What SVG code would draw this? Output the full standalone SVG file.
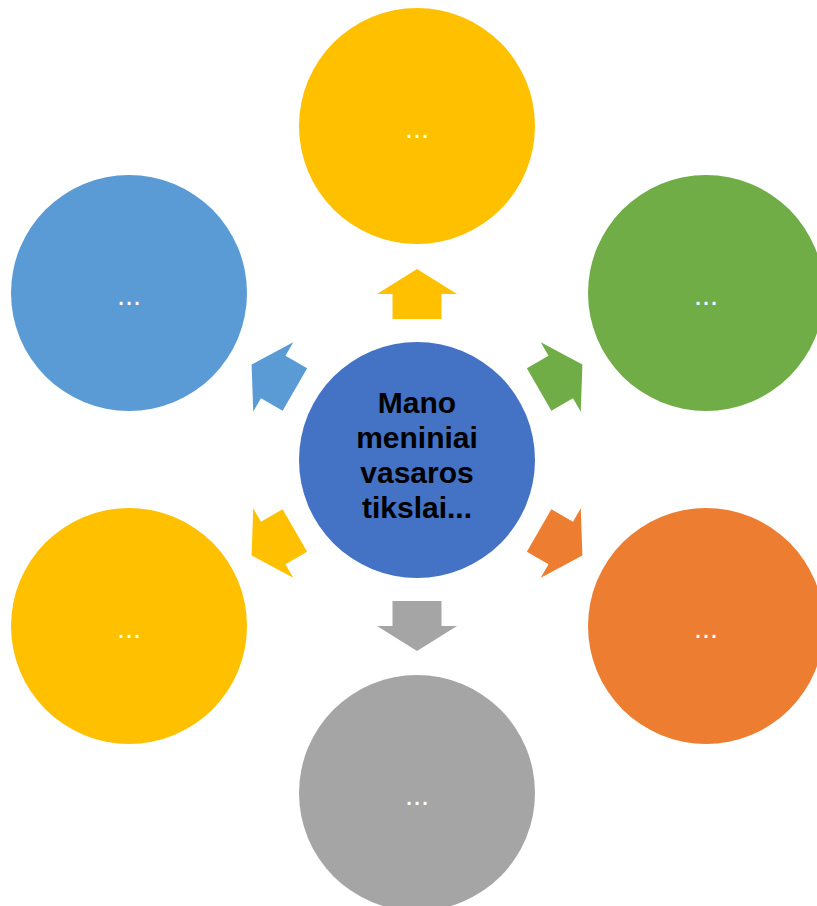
<svg xmlns="http://www.w3.org/2000/svg" width="817" height="906" viewBox="0 0 817 906">
<defs>
<style>
.dots{font-family:"Liberation Sans",Arial,sans-serif;font-size:29px;fill:#FFFFFF;text-anchor:middle}
.main{font-family:"Liberation Sans",Arial,sans-serif;font-size:30px;font-weight:bold;fill:#000000;text-anchor:middle}
</style>
<path id="arr" d="M -24.5,-141 L -24.5,-166 L -40,-166 L 0,-191 L 40,-166 L 24.5,-166 L 24.5,-141 Z"/>
</defs>
<rect width="817" height="906" fill="#FFFFFF"/>
<g id="connectors">
<use href="#arr" transform="translate(417,460) rotate(0)" fill="#FFC000"/>
<use href="#arr" transform="translate(417,460) rotate(60)" fill="#70AD47"/>
<use href="#arr" transform="translate(417,460) rotate(120)" fill="#ED7D31"/>
<use href="#arr" transform="translate(417,460) rotate(180)" fill="#A5A5A5"/>
<use href="#arr" transform="translate(417,460) rotate(240)" fill="#FFC000"/>
<use href="#arr" transform="translate(417,460) rotate(300)" fill="#5B9BD5"/>
</g>
<g id="center">
<circle cx="417" cy="460" r="118" fill="#4472C4"/>
<text class="main" x="417" y="413">Mano</text>
<text class="main" x="417" y="448">meniniai</text>
<text class="main" x="417" y="483">vasaros</text>
<text class="main" x="417" y="518">tikslai...</text>
</g>
<g id="top">
<circle cx="417" cy="126" r="118" fill="#FFC000"/>
<text class="dots" x="417" y="138">...</text>
</g>
<g id="upper-right">
<circle cx="706" cy="293" r="118" fill="#70AD47"/>
<text class="dots" x="706" y="305">...</text>
</g>
<g id="lower-right">
<circle cx="706" cy="626" r="118" fill="#ED7D31"/>
<text class="dots" x="706" y="638">...</text>
</g>
<g id="bottom">
<circle cx="417" cy="793" r="118" fill="#A5A5A5"/>
<text class="dots" x="417" y="805">...</text>
</g>
<g id="lower-left">
<circle cx="129" cy="626" r="118" fill="#FFC000"/>
<text class="dots" x="129" y="638">...</text>
</g>
<g id="upper-left">
<circle cx="129" cy="293" r="118" fill="#5B9BD5"/>
<text class="dots" x="129" y="305">...</text>
</g>
</svg>
